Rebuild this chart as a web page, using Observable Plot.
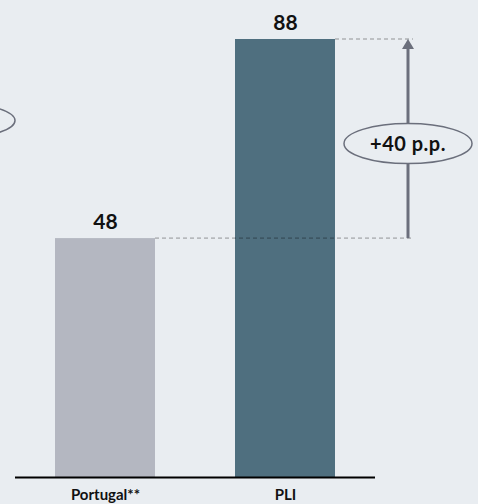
<!DOCTYPE html>
<html>
<head>
<meta charset="utf-8">
<script src="https://cdn.jsdelivr.net/npm/d3@7"></script>
<script src="https://cdn.jsdelivr.net/npm/@observablehq/plot@0.6"></script>
<style>
  html, body { margin: 0; padding: 0; background: #e9edf1; }
  #chart svg { display: block; background: #e9edf1; }
</style>
</head>
<body>
<div id="chart"></div>
<script>
const categories = ["Portugal**", "PLI"];
const values = [48, 88];
const barColors = ["#b4b7c1", "#4f6f7f"];
const deltaLabel = "+40 p.p.";

const data = categories.map((c, i) => ({category: c, value: values[i], color: barColors[i]}));

const W = 478, H = 504;
const font = "Lato, 'Open Sans', sans-serif";

const plot = Plot.plot({
  width: W,
  height: H,
  marginTop: 39,
  marginBottom: 27,
  marginLeft: 15,
  marginRight: 103,
  style: {background: "#e9edf1", fontFamily: font, color: "#111"},
  x: {domain: categories, range: [15, 375], paddingInner: 4/9, paddingOuter: 2/9, label: null},
  y: {domain: [0, 88], range: [477, 39], axis: null},
  marks: [
    Plot.barY(data, {x: "category", y: "value", fill: "color"}),
    Plot.ruleY([0], {stroke: "#000", strokeWidth: 2}),
    Plot.text(data, {x: "category", y: "value", text: d => String(d.value), dy: -10, lineAnchor: "bottom",
      fontSize: 21, fontWeight: 700, fill: "#111", letterSpacing: 0.5}),
    Plot.axisX({tickSize: 0, tickPadding: 12, fontSize: 15, fontWeight: 700, fill: "#111", letterSpacing: 0.3})
  ]
});

document.getElementById("chart").appendChild(plot);

// Annotation drawn with the plot's own scales
const xs = plot.scale("x"), ys = plot.scale("y");
const bw = xs.bandwidth;
const yLow = ys.apply(values[0]);
const yHigh = ys.apply(values[1]);
const xLowEnd = xs.apply(categories[0]) + bw;
const xHighEnd = xs.apply(categories[1]) + bw;
const xArrow = xHighEnd + 73;
const xDashEnd = xArrow + 5;

const svg = d3.select(plot);
const g = svg.append("g");
g.append("line").attr("x1", xLowEnd).attr("x2", xDashEnd).attr("y1", yLow).attr("y2", yLow)
  .attr("stroke", "#000").attr("stroke-opacity", 0.38).attr("stroke-width", 1).attr("stroke-dasharray", "4,3");
g.append("line").attr("x1", xHighEnd).attr("x2", xDashEnd).attr("y1", yHigh).attr("y2", yHigh)
  .attr("stroke", "#000").attr("stroke-opacity", 0.38).attr("stroke-width", 1).attr("stroke-dasharray", "4,3");
g.append("line").attr("x1", xArrow).attr("x2", xArrow).attr("y1", yLow).attr("y2", yHigh + 8)
  .attr("stroke", "#6b6f7c").attr("stroke-width", 3);
g.append("path").attr("d", `M${xArrow},${yHigh} L${xArrow - 6},${yHigh + 10} L${xArrow + 6},${yHigh + 10} Z`)
  .attr("fill", "#6b6f7c");
const yMid = (yLow + yHigh) / 2 + 5;
g.append("ellipse").attr("cx", xArrow).attr("cy", yMid).attr("rx", 64).attr("ry", 20)
  .attr("fill", "#e9edf1").attr("stroke", "#6b6f7c").attr("stroke-width", 1.5);
g.append("text").attr("x", xArrow).attr("y", yMid).attr("dy", "0.36em").attr("text-anchor", "middle")
  .attr("font-family", font).attr("font-size", 20).attr("font-weight", 700).attr("fill", "#111")
  .attr("letter-spacing", 0.5)
  .text(deltaLabel);
// partially visible ellipse of a neighbouring annotation on the left edge
g.append("ellipse").attr("cx", xs.range[0] - 64).attr("cy", yMid - 23).attr("rx", 64).attr("ry", 18)
  .attr("fill", "none").attr("stroke", "#6b6f7c").attr("stroke-width", 1.5);
</script>
</body>
</html>
